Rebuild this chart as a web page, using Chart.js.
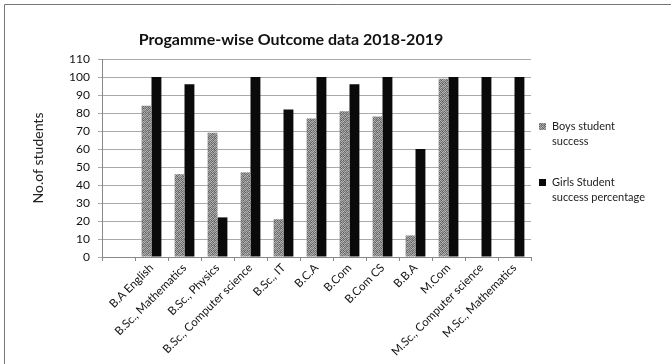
<!DOCTYPE html>
<html>
<head>
<meta charset="utf-8">
<script src="https://cdn.jsdelivr.net/npm/chart.js@4/dist/chart.umd.min.js"></script>
<style>
  html, body { margin: 0; padding: 0; background: #fff; }
  #wrap { position: relative; width: 671px; height: 364px; }
</style>
</head>
<body>
<div id="wrap"><canvas id="c" width="671" height="364"></canvas></div>
<script>
// Programmes (first slot is an empty row of the source sheet)
const programmes = ["", "B.A English", "B.Sc., Mathematics", "B.Sc., Physics", "B.Sc., Computer science",
  "B.Sc., IT", "B.C.A", "B.Com", "B.Com CS", "B.B.A", "M.Com", "M.Sc., Computer science", "M.Sc., Mathematics"];
const boysSuccess  = [null, 84, 46, 69, 47, 21, 77, 81, 78, 12, 99, 0, 0];
const girlsSuccess = [null, 100, 96, 22, 100, 82, 100, 96, 100, 60, 100, 100, 100];
const boysLabel  = ["Boys student", "success"];
const girlsLabel = ["Girls Student", "success percentage"];
const chartTitle = "Progamme-wise Outcome data 2018-2019";
const yTitle = "No.of students";
const yTicks = [0, 10, 20, 30, 40, 50, 60, 70, 80, 90, 100, 110];

const FONT = "Lato, 'Open Sans', 'Liberation Sans', sans-serif";

// Speckled grey fill for the boys series (fixed 6x6 tile)
function speckle() {
  const tile = [
    [160, 110, 185, 125, 150, 95],
    [130, 190, 100, 170, 115, 175],
    [175, 120, 155, 90, 185, 135],
    [105, 165, 130, 180, 125, 160],
    [185, 95, 170, 115, 150, 105],
    [120, 155, 110, 165, 95, 180]
  ];
  const n = tile.length;
  const c = document.createElement('canvas');
  c.width = n; c.height = n;
  const g = c.getContext('2d');
  for (let y = 0; y < n; y++) for (let x = 0; x < n; x++) {
    const s = tile[y][x];
    g.fillStyle = `rgb(${s},${s},${s})`;
    g.fillRect(x, y, 1, 1);
  }
  return g.createPattern(c, 'repeat');
}
const ctx = document.getElementById('c').getContext('2d');
const boysFill = speckle();
const girlsFill = '#0a0a0a';

// Frame, title and two-line legend
const decorations = {
  id: 'decorations',
  afterDraw(chart) {
    const g = chart.ctx;
    g.save();
    g.strokeStyle = '#777';
    g.lineWidth = 1;
    g.beginPath();
    g.moveTo(4.5, 364); g.lineTo(4.5, 4.5); g.lineTo(671, 4.5);
    g.stroke();

    g.fillStyle = '#111';
    g.font = `bold 16px ${FONT}`;
    g.textAlign = 'center';
    g.textBaseline = 'middle';
    g.fillText(chartTitle, 291, 40);

    g.font = `11px ${FONT}`;
    g.textAlign = 'left';
    const items = [
      { lines: boysLabel, fill: chart.data.datasets[0].backgroundColor, y: 126 },
      { lines: girlsLabel, fill: chart.data.datasets[1].backgroundColor, y: 182 }
    ];
    items.forEach(it => {
      g.fillStyle = it.fill;
      g.fillRect(539, it.y - 3, 7, 7);
      g.fillStyle = '#222';
      it.lines.forEach((t, i) => g.fillText(t, 552, it.y + i * 15));
    });
    g.restore();
  }
};

new Chart(ctx, {
  type: 'bar',
  data: {
    labels: programmes,
    datasets: [
      { label: boysLabel.join(' '), data: boysSuccess, backgroundColor: boysFill, borderWidth: 0 },
      { label: girlsLabel.join(' '), data: girlsSuccess, backgroundColor: girlsFill, borderWidth: 0 }
    ]
  },
  options: {
    responsive: false,
    animation: false,
    devicePixelRatio: 1,
    layout: { padding: { top: 59, left: 0, right: 140, bottom: 0 } },
    datasets: { bar: { categoryPercentage: 0.6, barPercentage: 1.0 } },
    plugins: {
      legend: { display: false },
      title: { display: false },
      tooltip: { enabled: false }
    },
    scales: {
      x: {
        grid: { display: true, drawOnChartArea: false, drawTicks: true, tickLength: 4, color: '#888', offset: true },
        border: { color: '#888' },
        ticks: {
          autoSkip: false, maxRotation: 45, minRotation: 45, padding: 0,
          color: '#111', font: { family: FONT, size: 11.5 }
        },
        afterFit(scale) { scale.height = 107; }
      },
      y: {
        min: 0, max: 110,
        afterBuildTicks(scale) { scale.ticks = yTicks.map(v => ({ value: v })); },
        grid: { color: '#aaa', tickLength: 4, drawTicks: true },
        border: { color: '#888' },
        ticks: { padding: 8, color: '#111', font: { family: FONT, size: 12 } },
        title: {
          display: true, text: yTitle, color: '#222',
          font: { family: FONT, size: 14 }, padding: { top: 30, bottom: 0 }
        },
        afterFit(scale) { scale.width = 102; }
      }
    }
  },
  plugins: [decorations]
});
</script>
</body>
</html>
